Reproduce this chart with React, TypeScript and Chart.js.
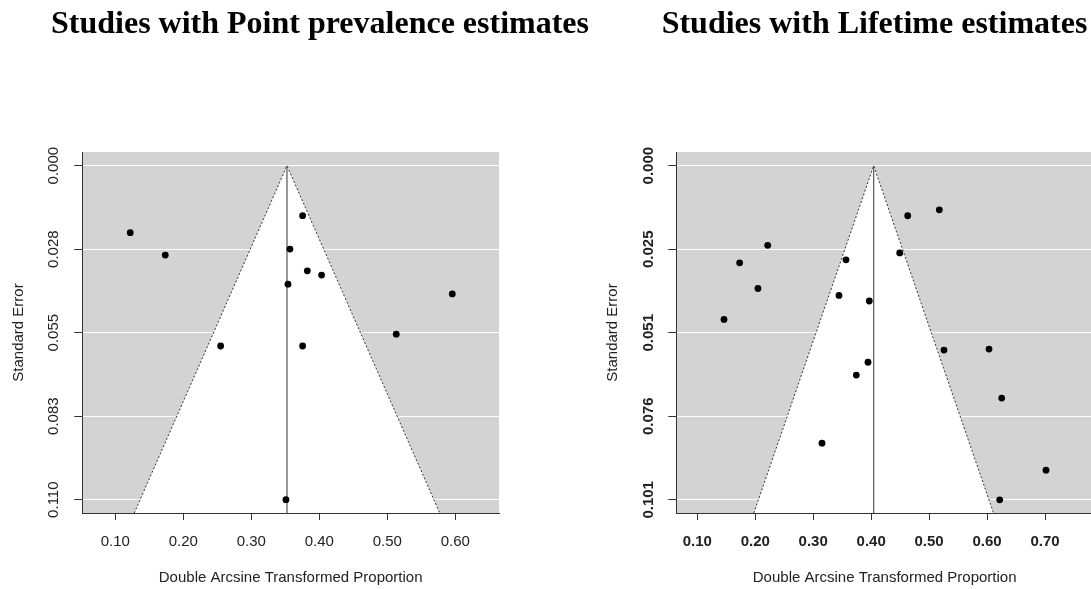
import React, { useEffect, useRef } from "react";
import { Chart, registerables } from "chart.js";

Chart.register(...registerables);

// ---------- Panel 1: Point prevalence ----------
const pointTitle = "Studies with Point prevalence estimates";
const pointEffect = [0.122, 0.1735, 0.3755, 0.3569, 0.3824, 0.4034, 0.354, 0.5956, 0.5132, 0.2549, 0.3755, 0.351];
const pointSE = [0.0221, 0.0295, 0.0165, 0.0275, 0.0347, 0.0361, 0.0391, 0.0423, 0.0556, 0.0595, 0.0595, 0.1102];
const pointCenter = 0.3525;
const pointXTicks = [0.1, 0.2, 0.3, 0.4, 0.5, 0.6];
const pointYTicks = [0, 0.02755, 0.0551, 0.08265, 0.1102];
const pointYLabels = ["0.000", "0.028", "0.055", "0.083", "0.110"];
const pointXRange = [0.0515, 0.6643];
const pointYRange = [-0.00452, 0.1146];

// ---------- Panel 2: Lifetime ----------
const lifeTitle = "Studies with Lifetime estimates";
const lifeEffect = [0.5176, 0.4631, 0.2215, 0.4493, 0.3566, 0.1731, 0.2047, 0.3445, 0.3968, 0.1461, 0.6034, 0.5257, 0.3946, 0.3744, 0.6253, 0.3152, 0.7017, 0.6218];
const lifeSE = [0.0134, 0.0152, 0.0242, 0.0265, 0.0286, 0.0295, 0.0373, 0.0394, 0.0411, 0.0467, 0.0557, 0.056, 0.0597, 0.0636, 0.0706, 0.0843, 0.0925, 0.1015];
const lifeCenter = 0.4044;
const lifeXTicks = [0.1, 0.2, 0.3, 0.4, 0.5, 0.6, 0.7];
const lifeYTicks = [0, 0.025375, 0.05075, 0.076125, 0.1015];
const lifeYLabels = ["0.000", "0.025", "0.051", "0.076", "0.101"];
const lifeXRange = [0.0638, 0.7828];
const lifeYRange = [-0.00416, 0.1055];

const xAxisTitle = "Double Arcsine Transformed Proportion";
const yAxisTitle = "Standard Error";
const Z = 1.96;

type PanelCfg = {
  title: string;
  effect: number[];
  se: number[];
  center: number;
  xTicks: number[];
  yTicks: number[];
  yLabels: string[];
  xRange: number[];
  yRange: number[];
  canvasLeft: number;
  canvasWidth: number;
  yAxisWidth: number;
  padRight: number;
  yTitlePad: number;
  yTickPad: number;
  bold: boolean;
};

const bgPlugin = {
  id: "plotBg",
  beforeDraw(chart: any) {
    const { ctx, chartArea } = chart;
    if (!chartArea) return;
    ctx.save();
    ctx.fillStyle = "#d3d3d3";
    ctx.fillRect(chartArea.left, chartArea.top, chartArea.right - chartArea.left, chartArea.bottom - chartArea.top);
    ctx.restore();
  },
};

function Panel({ cfg }: { cfg: PanelCfg }) {
  const ref = useRef<HTMLCanvasElement | null>(null);
  useEffect(() => {
    if (!ref.current) return;
    const seMax = cfg.yRange[1];
    const tickFont = { family: "'Liberation Sans', Arial, sans-serif", size: 15, weight: cfg.bold ? "bold" : "normal" };
    const labelFont = { family: "'Liberation Sans', Arial, sans-serif", size: 15 };
    const chart = new Chart(ref.current, {
      type: "scatter",
      data: {
        datasets: [
          {
            type: "line",
            data: [
              { x: cfg.center - Z * seMax, y: seMax },
              { x: cfg.center, y: 0 },
              { x: cfg.center + Z * seMax, y: seMax },
            ],
            borderColor: "#333",
            borderWidth: 1,
            borderDash: [2, 2],
            backgroundColor: "#ffffff",
            fill: { value: seMax },
            pointRadius: 0,
            tension: 0,
            order: 3,
          } as any,
          {
            type: "line",
            data: [
              { x: cfg.center, y: 0 },
              { x: cfg.center, y: seMax },
            ],
            borderColor: "#555",
            borderWidth: 1.2,
            pointRadius: 0,
            fill: false,
            order: 2,
          } as any,
          {
            type: "scatter",
            data: cfg.effect.map((x, i) => ({ x, y: cfg.se[i] })),
            backgroundColor: "#000",
            borderColor: "#000",
            borderWidth: 0,
            pointRadius: 3.4,
            order: 1,
          } as any,
        ],
      },
      options: {
        animation: false,
        responsive: false,
        layout: { padding: 0 },
        plugins: {
          legend: { display: false },
          tooltip: { enabled: false },
          title: {
            display: true,
            text: cfg.title,
            color: "#000",
            font: { family: "'Liberation Serif', 'Times New Roman', serif", size: 32, weight: "bold" },
            padding: { top: 6, bottom: 107.6 },
          },
        },
        scales: {
          x: {
            type: "linear",
            min: cfg.xRange[0],
            max: cfg.xRange[1],
            afterBuildTicks: (s: any) => {
              s.ticks = cfg.xTicks.map((v) => ({ value: v }));
            },
            afterFit: (s: any) => {
              s.height = 76;
            },
            ticks: {
              callback: (v: any) => Number(v).toFixed(2),
              color: "#222",
              font: tickFont as any,
              padding: 13,
              autoSkip: false,
              maxRotation: 0,
            },
            grid: { drawOnChartArea: false, drawTicks: true, tickLength: 7, tickColor: "#333" },
            border: { display: true, color: "#333", width: 1 },
            title: {
              display: true,
              text: xAxisTitle,
              color: "#222",
              font: labelFont as any,
              padding: { top: 0, bottom: 2 },
            },
          },
          y: {
            type: "linear",
            reverse: true,
            min: cfg.yRange[0],
            max: cfg.yRange[1],
            afterBuildTicks: (s: any) => {
              s.ticks = cfg.yTicks.map((v) => ({ value: v }));
            },
            afterFit: (s: any) => {
              s.width = cfg.yAxisWidth;
            },
            ticks: {
              callback: (_v: any, i: number) => cfg.yLabels[i],
              color: "#222",
              font: tickFont as any,
              minRotation: 90,
              maxRotation: 90,
              crossAlign: "center",
              padding: cfg.yTickPad,
              autoSkip: false,
            },
            grid: { color: "#ffffff", lineWidth: 1, drawTicks: true, tickLength: 8, tickColor: "#333" },
            border: { display: true, color: "#333", width: 1 },
            title: {
              display: true,
              text: yAxisTitle,
              color: "#222",
              font: labelFont as any,
              padding: { top: cfg.yTitlePad, bottom: 0 },
            },
          },
          // empty spacer on the right so the title stays centred over the whole figure region
          spacer: {
            type: "linear",
            position: "right",
            display: true,
            afterFit: (s: any) => {
              s.width = cfg.padRight;
            },
            ticks: { display: false },
            grid: { display: false, drawTicks: false },
            border: { display: false },
            title: { display: false },
          },
        },
      } as any,
      plugins: [bgPlugin],
    });
    return () => chart.destroy();
  }, [cfg]);
  return (
    <canvas
      ref={ref}
      width={cfg.canvasWidth}
      height={589}
      style={{ position: "absolute", left: cfg.canvasLeft, top: 0, width: cfg.canvasWidth, height: 589 }}
    />
  );
}

const leftCfg: PanelCfg = {
  title: pointTitle,
  effect: pointEffect,
  se: pointSE,
  center: pointCenter,
  xTicks: pointXTicks,
  yTicks: pointYTicks,
  yLabels: pointYLabels,
  xRange: pointXRange,
  yRange: pointYRange,
  canvasLeft: 0,
  canvasWidth: 640,
  yAxisWidth: 82.3,
  padRight: 141,
  yTitlePad: 10.3,
  yTickPad: 1.7,
  bold: false,
};

const rightCfg: PanelCfg = {
  title: lifeTitle,
  effect: lifeEffect,
  se: lifeSE,
  center: lifeCenter,
  xTicks: lifeXTicks,
  yTicks: lifeYTicks,
  yLabels: lifeYLabels,
  xRange: lifeXRange,
  yRange: lifeYRange,
  canvasLeft: 600,
  canvasWidth: 549,
  yAxisWidth: 76.3,
  padRight: 56,
  yTitlePad: 4.3,
  yTickPad: 0.7,
  bold: true,
};

export default function App() {
  return (
    <div
      style={{
        position: "fixed",
        left: 0,
        top: 0,
        width: 1091,
        height: 589,
        overflow: "hidden",
        background: "#fff",
      }}
    >
      <Panel cfg={leftCfg} />
      <Panel cfg={rightCfg} />
    </div>
  );
}
